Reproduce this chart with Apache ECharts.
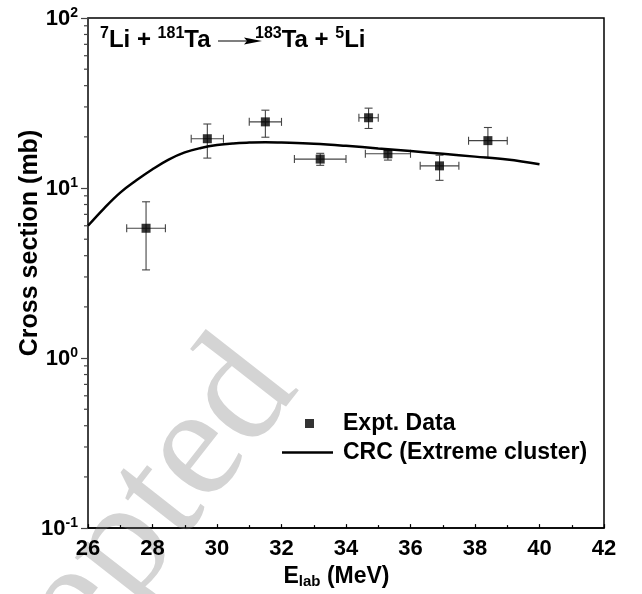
<!DOCTYPE html>
<html>
<head>
<meta charset="utf-8">
<script src="https://cdn.jsdelivr.net/npm/echarts@6/dist/echarts.min.js"></script>
<style>html,body{margin:0;padding:0;background:#fff}#c{width:642px;height:594px}</style>
</head>
<body>
<div id="c"></div>
<script>
// Experimental data
var exptE     = [27.8, 29.7, 31.5, 33.2, 34.7, 35.3, 36.9, 38.4];
var exptSigma = [5.8, 19.5, 24.5, 14.8, 25.9, 15.9, 13.5, 19.0];
var exptEErr  = [0.6, 0.5, 0.5, 0.8, 0.3, 0.7, 0.6, 0.6];
var exptLow   = [3.3, 15.0, 19.9, 13.6, 22.4, 14.6, 11.1, 15.1];
var exptHigh  = [8.3, 23.8, 28.7, 16.0, 29.5, 16.7, 15.6, 22.7];
// CRC calculation
var crcE     = [26, 26.5, 27, 27.5, 28, 28.5, 29, 29.5, 30, 30.5, 31, 31.5, 32, 33, 34, 35, 36, 37, 38, 39, 40];
var crcSigma = [6.0, 7.6, 9.4, 11.1, 12.9, 14.7, 16.2, 17.2, 17.9, 18.3, 18.5, 18.6, 18.5, 18.2, 17.7, 17.1, 16.5, 15.9, 15.3, 14.7, 13.8];
// Axis ticks
var xTicks = [26, 28, 30, 32, 34, 36, 38, 40, 42];
var yDecades = [0.1, 1, 10, 100];
var yMinorMultipliers = [2, 3, 4, 5, 6, 7, 8, 9];

var FONT = '"Liberation Sans", Arial, sans-serif';
var chart = echarts.init(document.getElementById('c'), null, {renderer: 'canvas'});

var scatterData = exptE.map(function (e, i) { return [e, exptSigma[i]]; });
var errData = exptE.map(function (e, i) { return [e, exptSigma[i], e - exptEErr[i], e + exptEErr[i], exptLow[i], exptHigh[i]]; });
var lineData = crcE.map(function (e, i) { return [e, crcSigma[i]]; });
var minorData = [];
yDecades.slice(0, 3).forEach(function (d) {
  yMinorMultipliers.forEach(function (m) { minorData.push([xTicks[0], +(d * m).toPrecision(3)]); });
});

var titleRich = {
  b: {fontSize: 24, fontWeight: 'bold', fontFamily: FONT, fill: '#000', verticalAlign: 'bottom'},
  s: {fontSize: 16, fontWeight: 'bold', fontFamily: FONT, fill: '#000', verticalAlign: 'bottom', padding: [0, 0, 10, 0]}
};

var option = {
  backgroundColor: '#fff',
  animation: false,
  grid: {left: 88, right: 38, top: 18, bottom: 61, show: true, borderColor: '#000', borderWidth: 1.5, backgroundColor: 'transparent'},
  xAxis: {
    type: 'value', min: 26, max: 42, interval: 2,
    axisLine: {onZero: false, lineStyle: {color: '#000', width: 1.5}},
    axisTick: {inside: true, length: 4, lineStyle: {color: '#000', width: 1.2}},
    minorTick: {show: true, splitNumber: 2, length: 3, lineStyle: {color: '#000', width: 1.2}},
    splitLine: {show: false},
    axisLabel: {margin: 10, color: '#000', fontSize: 22, fontWeight: 'bold', fontFamily: FONT},
    name: '{b|E}{sub|lab}{b| (MeV)}',
    nameLocation: 'middle', nameGap: 34,
    nameTextStyle: {
      padding: [0, 19, 0, 0],
      rich: {
        b: {fontSize: 23, fontWeight: 'bold', fontFamily: FONT, color: '#000', verticalAlign: 'top'},
        sub: {fontSize: 15, fontWeight: 'bold', fontFamily: FONT, color: '#000', verticalAlign: 'top', padding: [9, 0, 0, 0]}
      }
    }
  },
  yAxis: {
    type: 'log', logBase: 10, min: 0.1, max: 100,
    axisLine: {onZero: false, lineStyle: {color: '#444', width: 1.5}},
    axisTick: {inside: false, length: 7, lineStyle: {color: '#444', width: 1.2}},
    minorTick: {show: false},
    splitLine: {show: false},
    axisLabel: {
      margin: 10,
      formatter: function (v) { return '{b|10}{s|' + Math.round(Math.log10(v)) + '}'; },
      rich: {
        b: {fontSize: 22, fontWeight: 'bold', fontFamily: FONT, color: '#000', verticalAlign: 'bottom'},
        s: {fontSize: 14, fontWeight: 'bold', fontFamily: FONT, color: '#000', verticalAlign: 'bottom', padding: [0, 0, 10, 0]}
      }
    }
  },
  legend: [
    {
      data: ['Expt. Data'], left: 300, top: 407, orient: 'vertical',
      icon: 'rect', itemWidth: 9, itemHeight: 9,
      textStyle: {fontSize: 23, fontWeight: 'bold', fontFamily: FONT, color: '#000', padding: [0, 0, 0, 24]},
      selectedMode: false
    },
    {
      data: ['CRC (Extreme cluster)'], left: 277, top: 436, orient: 'vertical',
      icon: 'rect', itemWidth: 51, itemHeight: 2.5,
      textStyle: {fontSize: 23, fontWeight: 'bold', fontFamily: FONT, color: '#000', padding: [0, 0, 0, 5]},
      selectedMode: false
    }
  ],
  graphic: [
    {
      type: 'text', z: 0, silent: true,
      x: 330, y: 412, rotation: 52 * Math.PI / 180,
      style: {text: 'Accepted', font: '160px "Liberation Serif", "Times New Roman", serif', fill: '#d4d4d4', align: 'right', verticalAlign: 'bottom'}
    },
    {
      type: 'text', z: 100, x: 30, y: 243, rotation: Math.PI / 2,
      style: {text: 'Cross section (mb)', font: 'bold 25px ' + FONT, fill: '#000', align: 'center', verticalAlign: 'middle'}
    },
    {
      type: 'text', z: 100, x: 100, y: 26,
      style: {text: '{s|7}{b|Li + }{s|181}{b|Ta}', rich: titleRich}
    },
    {
      type: 'line', z: 100, shape: {x1: 218, y1: 41, x2: 252, y2: 41}, style: {stroke: '#000', lineWidth: 1.2}
    },
    {
      type: 'polygon', z: 100, shape: {points: [[244, 37.5], [262, 41], [244, 44.5], [247, 41]]}, style: {fill: '#000'}
    },
    {
      type: 'text', z: 100, x: 255, y: 26,
      style: {text: '{s|183}{b|Ta + }{s|5}{b|Li}', rich: titleRich}
    }
  ],
  series: [
    {
      name: 'yMinorTicks', type: 'custom', silent: true, clip: false, z: 5,
      data: minorData,
      renderItem: function (params, api) {
        var p = api.coord([api.value(0), api.value(1)]);
        return {type: 'line', shape: {x1: p[0] - 4, y1: p[1], x2: p[0], y2: p[1]}, style: {stroke: '#444', lineWidth: 1.2}};
      }
    },
    {
      name: 'errors', type: 'custom', silent: true, z: 3,
      data: errData,
      renderItem: function (params, api) {
        var c = api.coord([api.value(0), api.value(1)]);
        var l = api.coord([api.value(2), api.value(1)]);
        var r = api.coord([api.value(3), api.value(1)]);
        var lo = api.coord([api.value(0), api.value(4)]);
        var hi = api.coord([api.value(0), api.value(5)]);
        var st = {stroke: '#444', lineWidth: 1.1};
        var cap = 4;
        return {type: 'group', children: [
          {type: 'line', shape: {x1: l[0], y1: c[1], x2: r[0], y2: c[1]}, style: st},
          {type: 'line', shape: {x1: l[0], y1: c[1] - cap, x2: l[0], y2: c[1] + cap}, style: st},
          {type: 'line', shape: {x1: r[0], y1: c[1] - cap, x2: r[0], y2: c[1] + cap}, style: st},
          {type: 'line', shape: {x1: c[0], y1: lo[1], x2: c[0], y2: hi[1]}, style: st},
          {type: 'line', shape: {x1: c[0] - cap, y1: lo[1], x2: c[0] + cap, y2: lo[1]}, style: st},
          {type: 'line', shape: {x1: c[0] - cap, y1: hi[1], x2: c[0] + cap, y2: hi[1]}, style: st}
        ]};
      }
    },
    {
      name: 'Expt. Data', type: 'scatter', symbol: 'rect', symbolSize: 9, z: 4,
      itemStyle: {color: '#000'},
      data: scatterData
    },
    {
      name: 'CRC (Extreme cluster)', type: 'line', smooth: 0.4, showSymbol: false, symbol: 'none', z: 3,
      lineStyle: {color: '#000', width: 2.5},
      itemStyle: {color: '#000'},
      data: lineData
    }
  ]
};
chart.setOption(option);
</script>
</body>
</html>
